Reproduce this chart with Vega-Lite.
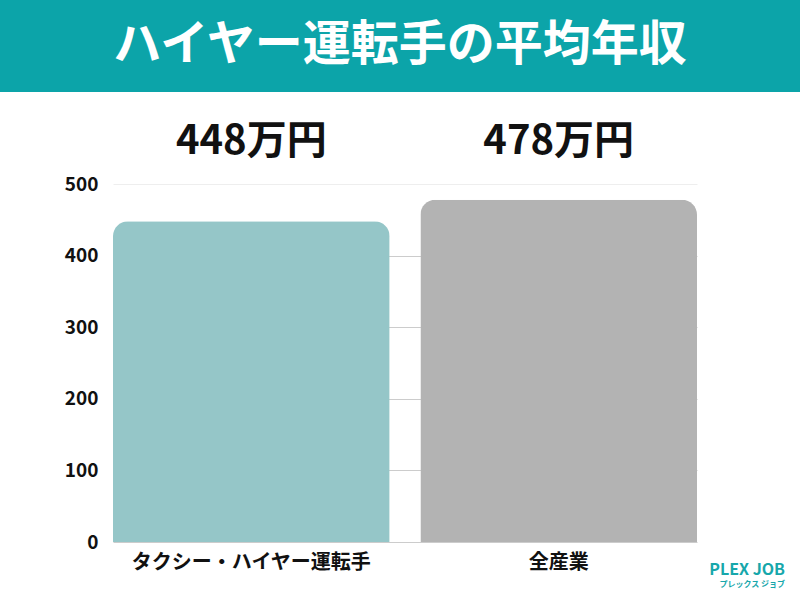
{
  "$schema": "https://vega.github.io/schema/vega-lite/v6.json",
  "padding": 0,
  "background": "white",
  "spacing": 29,
  "config": {"view": {"stroke": null}, "font": "Noto Sans CJK JP"},
  "title": {
    "text": "PLEX JOB",
    "subtitle": "プレックス ジョブ",
    "orient": "bottom",
    "anchor": "end",
    "frame": "bounds",
    "offset": -10,
    "dx": -15,
    "color": "#17a7ab",
    "fontSize": 16,
    "fontWeight": "bold",
    "font": "Noto Sans CJK JP",
    "subtitleColor": "#17a7ab",
    "subtitleFontSize": 8,
    "subtitleFontWeight": "bold",
    "subtitlePadding": 3,
    "subtitleFont": "Noto Sans CJK JP"
  },
  "vconcat": [
    {
      "width": 800,
      "height": 92,
      "view": {"fill": "#0ca4a9", "stroke": null},
      "data": {"values": [{"t": "ハイヤー運転手の平均年収"}]},
      "mark": {"type": "text", "color": "white", "fontSize": 48, "fontWeight": "bold", "font": "Noto Sans CJK JP", "baseline": "middle", "align": "center"},
      "encoding": {"text": {"field": "t"}}
    },
    {
      "width": 800,
      "height": 358,
      "data": {"values": [
        {"cat": "タクシー・ハイヤー運転手", "v": 448, "label": "448万円"},
        {"cat": "全産業", "v": 478, "label": "478万円"}
      ]},
      "encoding": {
        "x": {
          "field": "cat", "type": "nominal", "sort": null,
          "scale": {"paddingInner": 0.1, "paddingOuter": 0, "range": [113, 697]},
          "axis": {"title": null, "labelAngle": 0, "labelFontSize": 20, "labelFontWeight": "bold", "labelColor": "#111111", "domain": false, "ticks": false, "labelPadding": 10, "labelLimit": 500, "labelFont": "Noto Sans CJK JP"}
        }
      },
      "layer": [
        {
          "mark": {"type": "bar", "cornerRadiusTopLeft": 15, "cornerRadiusTopRight": 15},
          "encoding": {
            "y": {
              "field": "v", "type": "quantitative",
              "scale": {"domain": [0, 500]},
              "axis": {"title": null, "values": [0, 100, 200, 300, 400, 500], "labelFontSize": 19, "labelFontWeight": "bold", "labelColor": "#111111", "labelPadding": 15, "ticks": false, "domain": false, "gridColor": {"condition": {"test": "datum.value === 500", "value": "#eeeeee"}, "value": "#cccccc"}, "offset": -113, "minExtent": 0, "labelFont": "Noto Sans CJK JP"}
            },
            "color": {"field": "cat", "type": "nominal", "sort": null, "scale": {"range": ["#95c6c8", "#b3b3b3"]}, "legend": null}
          }
        },
        {
          "mark": {"type": "text", "fontSize": 40, "fontWeight": "bold", "color": "#111111", "baseline": "middle", "font": "Noto Sans CJK JP"},
          "encoding": {
            "y": {"datum": 559, "type": "quantitative"},
            "text": {"field": "label"}
          }
        }
      ]
    }
  ]
}
